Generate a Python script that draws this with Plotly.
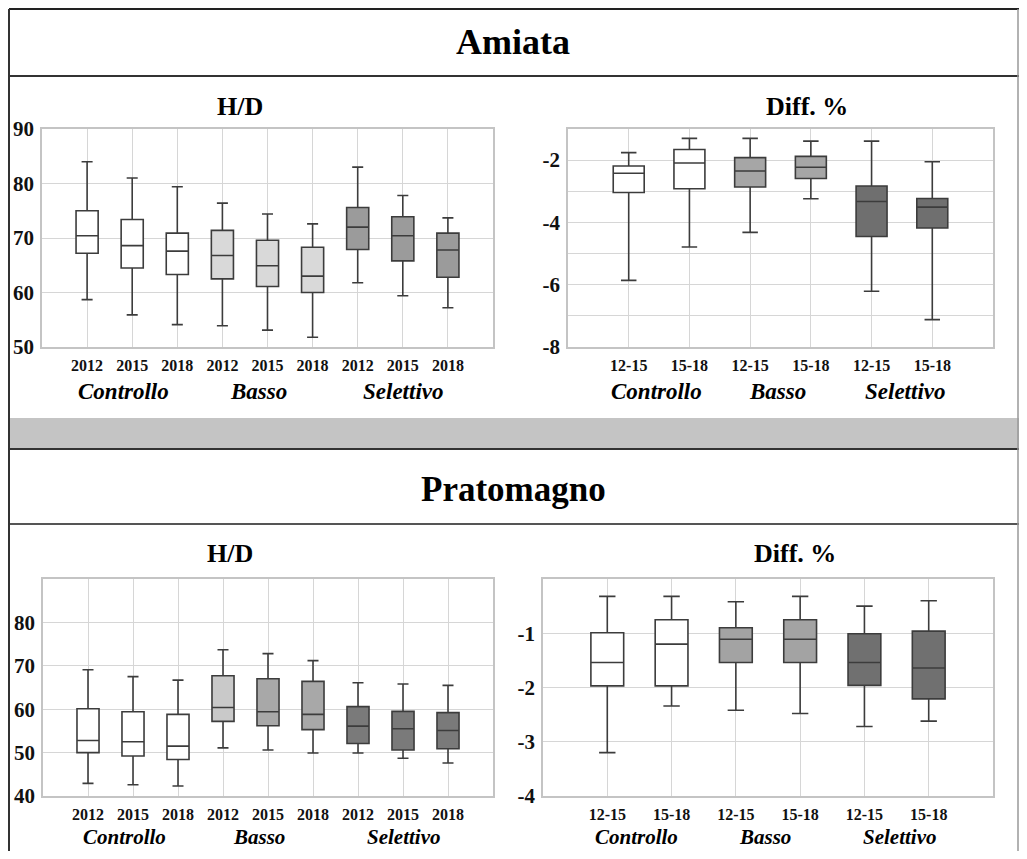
import plotly.graph_objects as go

# ---------------- data ----------------
groups = ["Controllo", "Basso", "Selettivo"]
hd_labels = ["2012", "2015", "2018", "2012", "2015", "2018", "2012", "2015", "2018"]
diff_labels = ["12-15", "15-18", "12-15", "15-18", "12-15", "15-18"]

# Amiata H/D
am_hd_upper = [84.0, 81.0, 79.4, 76.4, 74.4, 72.6, 83.0, 77.8, 73.7]
am_hd_q3 = [75.0, 73.4, 70.9, 71.4, 69.6, 68.3, 75.6, 73.9, 70.9]
am_hd_med = [70.4, 68.6, 67.6, 66.8, 64.9, 63.0, 72.0, 70.4, 67.8]
am_hd_q1 = [67.2, 64.5, 63.3, 62.5, 61.1, 60.0, 67.9, 65.8, 62.8]
am_hd_lower = [58.7, 55.9, 54.1, 53.9, 53.1, 51.8, 61.8, 59.4, 57.2]

# Amiata Diff. %
am_df_upper = [-1.76, -1.30, -1.30, -1.39, -1.39, -2.05]
am_df_q3 = [-2.19, -1.66, -1.92, -1.88, -2.83, -3.23]
am_df_med = [-2.42, -2.09, -2.35, -2.23, -3.33, -3.51]
am_df_q1 = [-3.04, -2.92, -2.86, -2.59, -4.45, -4.18]
am_df_lower = [-5.86, -4.79, -4.32, -3.24, -6.21, -7.12]

# Pratomagno H/D
pr_hd_upper = [69.1, 67.5, 66.7, 73.7, 72.8, 71.2, 66.1, 65.8, 65.5]
pr_hd_q3 = [60.1, 59.4, 58.8, 67.7, 67.0, 66.4, 60.6, 59.5, 59.2]
pr_hd_med = [52.8, 52.5, 51.5, 60.4, 59.4, 58.8, 56.1, 55.5, 55.1]
pr_hd_q1 = [50.0, 49.2, 48.4, 57.2, 56.2, 55.3, 52.1, 50.6, 50.9]
pr_hd_lower = [42.9, 42.6, 42.3, 51.1, 50.6, 49.9, 49.9, 48.7, 47.6]

# Pratomagno Diff. %
pr_df_upper = [-0.32, -0.32, -0.42, -0.32, -0.50, -0.40]
pr_df_q3 = [-0.99, -0.75, -0.90, -0.75, -1.01, -0.96]
pr_df_med = [-1.54, -1.20, -1.11, -1.11, -1.54, -1.64]
pr_df_q1 = [-1.97, -1.97, -1.54, -1.54, -1.96, -2.21]
pr_df_lower = [-3.20, -2.34, -2.42, -2.48, -2.72, -2.62]

# fill colours (style)
am_hd_colors = ["#ffffff"] * 3 + ["#d9d9d9"] * 3 + ["#9b9b9b"] * 3
am_df_colors = ["#ffffff"] * 2 + ["#a6a6a6"] * 2 + ["#6f6f6f"] * 2
pr_hd_colors = ["#ffffff"] * 3 + ["#c9c9c9", "#a8a8a8", "#a8a8a8"] + ["#7a7a7a"] * 3
pr_df_colors = ["#ffffff"] * 2 + ["#a3a3a3"] * 2 + ["#707070"] * 2

# figure sized to fit inside the window with the page's default 8px body margin
OFF = 8
W, H = 1027 - 2 * OFF, 859 - 2 * OFF
SERIF = "Liberation Serif, Times New Roman, serif"


def px_x(p):
    return (p - OFF) / W


def px_y(p):
    return 1 - (p - OFF) / H


fig = go.Figure()


def add_boxes(axn, lower, q1, med, q3, upper, colors, width):
    xs = "x" if axn == 1 else f"x{axn}"
    ys = "y" if axn == 1 else f"y{axn}"
    for i in range(len(med)):
        fig.add_trace(go.Box(
            x=[i], q1=[q1[i]], median=[med[i]], q3=[q3[i]],
            lowerfence=[lower[i]], upperfence=[upper[i]],
            width=width, whiskerwidth=0.5,
            fillcolor=colors[i],
            line=dict(color="#3c3c3c", width=1.6),
            boxpoints=False, showlegend=False, hoverinfo="skip",
            xaxis=xs, yaxis=ys,
        ))


add_boxes(1, am_hd_lower, am_hd_q1, am_hd_med, am_hd_q3, am_hd_upper, am_hd_colors, 0.49)
add_boxes(2, am_df_lower, am_df_q1, am_df_med, am_df_q3, am_df_upper, am_df_colors, 0.51)
add_boxes(3, pr_hd_lower, pr_hd_q1, pr_hd_med, pr_hd_q3, pr_hd_upper, pr_hd_colors, 0.49)
add_boxes(4, pr_df_lower, pr_df_q1, pr_df_med, pr_df_q3, pr_df_upper, pr_df_colors, 0.51)

GRID = "#d6d6d6"
FRAME = "#c4c4c4"


def xaxis(domain, labels):
    n = len(labels)
    return dict(
        domain=domain, range=[-1, n], tickmode="array",
        tickvals=list(range(n)), ticktext=[f"<b>{t}</b>" for t in labels],
        tickfont=dict(family=SERIF, size=16, color="#111"),
        showgrid=True, gridcolor=GRID, gridwidth=1,
        showline=True, mirror=True, linecolor=FRAME, linewidth=1.5,
        ticks="", zeroline=False, fixedrange=True, ticklabelstandoff=3,
        automargin=False,
    )


def yaxis(domain, rng, vals, texts, anchor):
    return dict(
        domain=domain, range=rng, tickmode="array", tickvals=vals,
        ticktext=[f"<b>{t}</b>" if t != "" else "" for t in texts],
        tickfont=dict(family=SERIF, size=21, color="#111"),
        showgrid=True, gridcolor=GRID, gridwidth=1,
        showline=True, mirror=True, linecolor=FRAME, linewidth=1.5,
        ticks="", zeroline=False, fixedrange=True, anchor=anchor,
        ticklabelstandoff=2, automargin=False,
    )


top_dom = [px_y(347), px_y(129)]
bot_dom = [px_y(796), px_y(579)]

layout = dict(
    width=W, height=H, margin=dict(l=0, r=0, t=0, b=0, pad=0, autoexpand=False),
    paper_bgcolor="white", plot_bgcolor="white", showlegend=False,
    xaxis=dict(xaxis([px_x(42), px_x(493)], hd_labels), anchor="y"),
    yaxis=yaxis(top_dom, [50, 90], [50, 60, 70, 80, 90], ["50", "60", "70", "80", "90"], "x"),
    xaxis2=dict(xaxis([px_x(568), px_x(993)], diff_labels), anchor="y2"),
    yaxis2=yaxis(top_dom, [-8, -1], [-8, -7, -6, -5, -4, -3, -2, -1],
                 ["-8", "", "-6", "", "-4", "", "-2", ""], "x2"),
    xaxis3=dict(xaxis([px_x(43), px_x(493)], hd_labels), anchor="y3"),
    yaxis3=yaxis(bot_dom, [40, 90], [40, 50, 60, 70, 80, 90], ["40", "50", "60", "70", "80", ""], "x3"),
    xaxis4=dict(xaxis([px_x(543), px_x(993)], diff_labels), anchor="y4"),
    yaxis4=yaxis(bot_dom, [-4, 0], [-4, -3, -2, -1, 0], ["-4", "-3", "-2", "-1", ""], "x4"),
)
fig.update_layout(**layout)

annotations = []


def ann(text, x, y, size, italic=False, xref="paper"):
    annotations.append(dict(
        text=f"<b>{text}</b>" if not italic else f"<b><i>{text}</i></b>",
        x=x, y=y, xref=xref, yref="paper", showarrow=False,
        xanchor="center", yanchor="middle", borderpad=0,
        font=dict(family=SERIF, size=size, color="#000"),
    ))


# section titles
ann("Amiata", px_x(513), px_y(42), 36)
ann("Pratomagno", px_x(513), px_y(489), 35)
# panel titles
ann("H/D", px_x(240), px_y(107), 26)
ann("Diff. %", px_x(807), px_y(107), 26)
ann("H/D", px_x(230), px_y(553), 26)
ann("Diff. %", px_x(795), px_y(553), 26)

# group labels under the x axes
hd_group_pos = [0.8, 3.8, 7.0]
diff_group_pos = [0.45, 2.45, 4.55]
for g, xp in zip(groups, hd_group_pos):
    ann(g, xp, px_y(391), 23, italic=True, xref="x")
    ann(g, xp, px_y(837), 21, italic=True, xref="x3")
for g, xp in zip(groups, diff_group_pos):
    ann(g, xp, px_y(391), 23, italic=True, xref="x2")
    ann(g, xp, px_y(837), 21, italic=True, xref="x4")

fig.update_layout(annotations=annotations)

# outer frame / separators
L, R = px_x(9), 1
shapes = [
    dict(type="rect", xref="paper", yref="paper", x0=L, x1=R, y0=px_y(449), y1=px_y(418),
         fillcolor="#c4c4c4", line=dict(width=0), layer="below"),
    dict(type="line", xref="paper", yref="paper", x0=L, x1=R, y0=px_y(9), y1=px_y(9),
         line=dict(color="#222", width=2)),
    dict(type="line", xref="paper", yref="paper", x0=L, x1=R, y0=px_y(76), y1=px_y(76),
         line=dict(color="#333", width=2)),
    dict(type="line", xref="paper", yref="paper", x0=L, x1=R, y0=px_y(449), y1=px_y(449),
         line=dict(color="#333", width=2)),
    dict(type="line", xref="paper", yref="paper", x0=L, x1=R, y0=px_y(524), y1=px_y(524),
         line=dict(color="#555", width=2)),
    dict(type="line", xref="paper", yref="paper", x0=L, x1=L, y0=0, y1=px_y(9),
         line=dict(color="#333", width=2)),
    dict(type="line", xref="paper", yref="paper", x0=px_x(1018), x1=px_x(1018), y0=0, y1=px_y(9),
         line=dict(color="#999", width=1.5)),
]
fig.update_layout(shapes=shapes)

fig.write_html("out.html")
